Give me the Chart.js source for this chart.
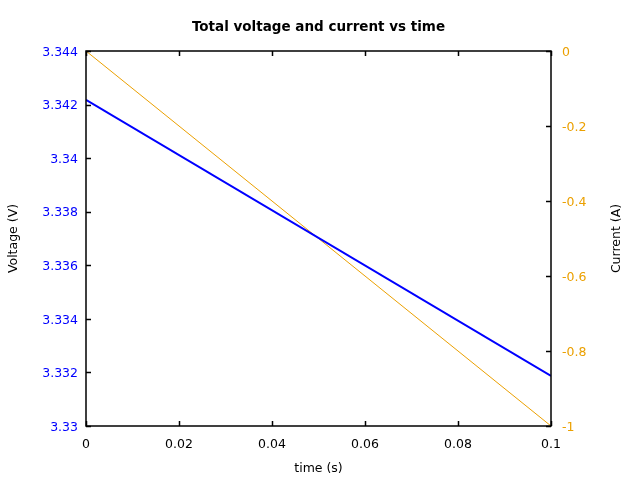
<!DOCTYPE html>
<html>
<head>
<meta charset="utf-8">
<script src="https://cdn.jsdelivr.net/npm/chart.js@4/dist/chart.umd.min.js"></script>
<style>
  html, body { margin: 0; padding: 0; background: #fff; }
  #wrap { width: 640px; height: 480px; }
</style>
</head>
<body>
<div id="wrap"><canvas id="grafico" width="640" height="480"></canvas></div>
<script>
// datos
const tiempo = [0, 0.1];
const voltaje = [3.34218, 3.33187];
const corriente = [0, -1];

const xTicks = [0, 0.02, 0.04, 0.06, 0.08, 0.1];
const vTicks = [3.33, 3.332, 3.334, 3.336, 3.338, 3.34, 3.342, 3.344];
const iTicks = [-1, -0.8, -0.6, -0.4, -0.2, 0];

const titulo = 'Total voltage and current vs time';
const tituloX = 'time (s)';
const tituloV = 'Voltage (V)';
const tituloI = 'Current (A)';

const azul = '#0000ff';
const naranja = '#eba000';
const fuente = 'DejaVu Sans';

function fmt(v) {
  return String(parseFloat(Number(v).toFixed(4)));
}

// ticks hacia dentro, marco y textos
const marco = {
  id: 'marco',
  afterDraw(chart) {
    const c = chart.ctx;
    const a = chart.chartArea;
    const sx = chart.scales.x, sv = chart.scales.yV, si = chart.scales.yI;
    const L = 5;
    c.save();
    c.strokeStyle = '#000';
    c.lineWidth = 1.5;
    c.beginPath();
    xTicks.forEach(t => {
      const px = Math.round(sx.getPixelForValue(t)) + 0.5;
      c.moveTo(px, a.bottom); c.lineTo(px, a.bottom - L);
      c.moveTo(px, a.top); c.lineTo(px, a.top + L);
    });
    vTicks.forEach(t => {
      const py = Math.round(sv.getPixelForValue(t)) + 0.5;
      c.moveTo(a.left, py); c.lineTo(a.left + L, py);
    });
    iTicks.forEach(t => {
      const py = Math.round(si.getPixelForValue(t)) + 0.5;
      c.moveTo(a.right, py); c.lineTo(a.right - L, py);
    });
    c.stroke();
    c.strokeRect(a.left, a.top, a.right - a.left, a.bottom - a.top);

    c.fillStyle = '#000';
    c.textAlign = 'center';
    c.textBaseline = 'middle';
    c.font = 'bold 13.5px "' + fuente + '"';
    c.fillText(titulo, (a.left + a.right) / 2, 27);
    c.font = '12.5px "' + fuente + '"';
    c.fillText(tituloX, (a.left + a.right) / 2, 469);
    const cy = (a.top + a.bottom) / 2;
    c.translate(14, cy);
    c.rotate(-Math.PI / 2);
    c.fillText(tituloV, 0, 0);
    c.rotate(Math.PI / 2);
    c.translate(617 - 14, 0);
    c.rotate(-Math.PI / 2);
    c.fillText(tituloI, 0, 0);
    c.restore();
  }
};

const ctx = document.getElementById('grafico').getContext('2d');
new Chart(ctx, {
  type: 'line',
  data: {
    datasets: [
      {
        label: 'Voltage',
        data: tiempo.map((t, i) => ({ x: t, y: voltaje[i] })),
        yAxisID: 'yV',
        borderColor: azul,
        borderWidth: 2,
        pointRadius: 0,
        tension: 0
      },
      {
        label: 'Current',
        data: tiempo.map((t, i) => ({ x: t, y: corriente[i] })),
        yAxisID: 'yI',
        borderColor: naranja,
        borderWidth: 1,
        pointRadius: 0,
        tension: 0
      }
    ]
  },
  options: {
    responsive: false,
    animation: false,
    layout: { padding: { top: 51, left: 0, right: 0, bottom: 0 } },
    plugins: {
      legend: { display: false },
      title: { display: false },
      tooltip: { enabled: false }
    },
    scales: {
      x: {
        type: 'linear',
        min: 0,
        max: 0.1,
        grid: { display: false },
        border: { display: false },
        afterBuildTicks: s => { s.ticks = xTicks.map(v => ({ value: v })); },
        afterFit: s => { s.height = 54; },
        ticks: {
          padding: 3,
          maxRotation: 0,
          color: '#000',
          font: { family: fuente, size: 12.5 },
          callback: v => fmt(v)
        }
      },
      yV: {
        type: 'linear',
        position: 'left',
        min: 3.33,
        max: 3.344,
        grid: { display: false },
        border: { display: false },
        afterBuildTicks: s => { s.ticks = vTicks.map(v => ({ value: v })); },
        afterFit: s => { s.width = 86; },
        ticks: {
          padding: 0,
          labelOffset: 1.5,
          color: azul,
          font: { family: fuente, size: 12.5 },
          callback: v => fmt(v)
        }
      },
      yI: {
        type: 'linear',
        position: 'right',
        min: -1,
        max: 0,
        grid: { display: false },
        border: { display: false },
        afterBuildTicks: s => { s.ticks = iTicks.map(v => ({ value: v })); },
        afterFit: s => { s.width = 89; },
        ticks: {
          padding: 3,
          labelOffset: 1.5,
          color: naranja,
          font: { family: fuente, size: 12.5 },
          callback: v => fmt(v)
        }
      }
    }
  },
  plugins: [marco]
});
</script>
</body>
</html>
